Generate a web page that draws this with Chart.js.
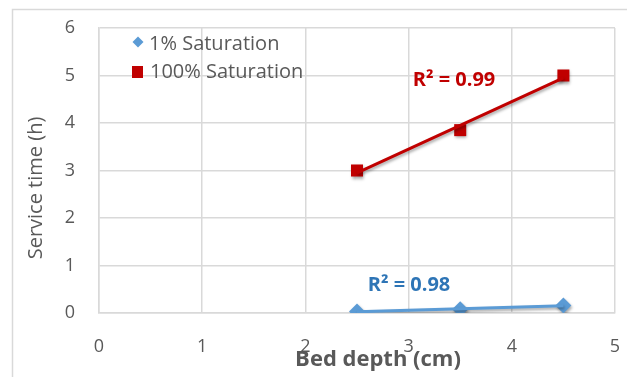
<!DOCTYPE html>
<html>
<head>
<meta charset="utf-8">
<script src="https://cdn.jsdelivr.net/npm/chart.js@4/dist/chart.umd.min.js"></script>
<style>
  html, body { margin: 0; padding: 0; background: #fff; }
  #wrap { width: 627px; height: 377px; position: relative; }
</style>
</head>
<body>
<div id="wrap"><canvas id="c" width="627" height="377"></canvas></div>
<script>
// Bed depth (cm) vs. service time (h) for two saturation levels
const bedDepth = [2.5, 3.5, 4.5];
const time1pct = [0.03, 0.08, 0.16];
const time100pct = [3.0, 3.85, 5.0];
const seriesNames = ['1% Saturation', '100% Saturation'];
const r2Labels = ['R² = 0.98', 'R² = 0.99'];
const xTicks = [0, 1, 2, 3, 4, 5];
const yTicks = [0, 1, 2, 3, 4, 5, 6];

const BLUE = '#5B9BD5';
const BLUE_TXT = '#2E75B6';
const RED = '#C00000';
const GREY = '#595959';
const GRID = '#D9D9D9';
const FONT = '"Open Sans", Lato, sans-serif';

// least-squares line through a series, evaluated at its first and last x
function trend(xs, ys) {
  const n = xs.length;
  const mx = xs.reduce((a, b) => a + b, 0) / n;
  const my = ys.reduce((a, b) => a + b, 0) / n;
  let sxy = 0, sxx = 0;
  for (let i = 0; i < n; i++) { sxy += (xs[i] - mx) * (ys[i] - my); sxx += (xs[i] - mx) ** 2; }
  const b = sxy / sxx, a = my - b * mx;
  return [xs[0], xs[n - 1]].map(x => ({ x, y: a + b * x }));
}
const pts = (xs, ys) => xs.map((x, i) => ({ x, y: ys[i] }));

// soft shadow under lines and markers
const shadowPlugin = {
  id: 'shadow',
  beforeDatasetDraw(chart) {
    const ctx = chart.ctx;
    ctx.save();
    ctx.shadowColor = 'rgba(0,0,0,0.35)';
    ctx.shadowBlur = 3;
    ctx.shadowOffsetX = 1;
    ctx.shadowOffsetY = 2;
  },
  afterDatasetDraw(chart) { chart.ctx.restore(); }
};

// frame, axis titles, legend and R² annotations
const decorPlugin = {
  id: 'decor',
  beforeDraw(chart) {
    const ctx = chart.ctx;
    ctx.save();
    ctx.strokeStyle = GRID;
    ctx.lineWidth = 1.5;
    ctx.beginPath();
    ctx.moveTo(12.5, 400); ctx.lineTo(12.5, 9.5); ctx.lineTo(640, 9.5);
    ctx.stroke();
    ctx.restore();
  },
  afterDraw(chart) {
    const ctx = chart.ctx;
    ctx.save();
    // axis titles
    ctx.fillStyle = GREY;
    ctx.textAlign = 'center';
    ctx.textBaseline = 'middle';
    ctx.font = 'bold 22px ' + FONT;
    ctx.fillText('Bed depth (cm)', 378, 360);
    ctx.save();
    ctx.translate(36, 188);
    ctx.rotate(-Math.PI / 2);
    ctx.font = '20px ' + FONT;
    ctx.fillText('Service time (h)', 0, 0);
    ctx.restore();

    // legend
    ctx.textAlign = 'left';
    ctx.font = '20px ' + FONT;
    ctx.fillStyle = BLUE;
    ctx.beginPath();
    ctx.moveTo(138, 36.5); ctx.lineTo(143.5, 42); ctx.lineTo(138, 47.5); ctx.lineTo(132.5, 42);
    ctx.closePath(); ctx.fill();
    ctx.fillStyle = RED;
    ctx.fillRect(132, 66, 11, 12);
    ctx.fillStyle = GREY;
    ctx.fillText(seriesNames[0], 149, 44);
    ctx.fillText(seriesNames[1], 150, 72);

    // R² annotations
    ctx.textAlign = 'center';
    ctx.font = 'bold 20px ' + FONT;
    ctx.fillStyle = RED;
    ctx.fillText(r2Labels[1], 454, 80);
    ctx.fillStyle = BLUE_TXT;
    ctx.fillText(r2Labels[0], 409, 285);
    ctx.restore();
  }
};

new Chart(document.getElementById('c'), {
  type: 'scatter',
  data: {
    datasets: [
      { label: seriesNames[0] + ' trend', data: trend(bedDepth, time1pct), type: 'line',
        borderColor: BLUE, borderWidth: 3, pointRadius: 0, fill: false },
      { label: seriesNames[1] + ' trend', data: trend(bedDepth, time100pct), type: 'line',
        borderColor: RED, borderWidth: 3, pointRadius: 0, fill: false },
      { label: seriesNames[0], data: pts(bedDepth, time1pct), pointStyle: 'rectRot',
        pointRadius: 8, backgroundColor: BLUE, borderColor: BLUE, borderWidth: 0 },
      { label: seriesNames[1], data: pts(bedDepth, time100pct), pointStyle: 'rect',
        pointRadius: 8.5, backgroundColor: RED, borderColor: RED, borderWidth: 0 }
    ]
  },
  options: {
    responsive: false,
    animation: false,
    devicePixelRatio: 1,
    layout: { padding: { top: 28, right: 12, left: 0, bottom: 0 } },
    plugins: { legend: { display: false }, tooltip: { enabled: false } },
    scales: {
      x: {
        type: 'linear', min: 0, max: 5,
        afterBuildTicks: s => { s.ticks = xTicks.map(v => ({ value: v })); },
        afterFit: s => { s.height = 64; s.paddingLeft = 0; s.paddingRight = 0; },
        grid: { color: GRID, lineWidth: 1.5, drawTicks: false },
        border: { color: GRID, width: 1.5 },
        ticks: { color: GREY, padding: 23, font: { family: FONT, size: 18 } }
      },
      y: {
        type: 'linear', min: 0, max: 6,
        afterBuildTicks: s => { s.ticks = yTicks.map(v => ({ value: v })); },
        afterFit: s => { s.width = 99; s.paddingTop = 0; s.paddingBottom = 0; },
        grid: { color: GRID, lineWidth: 1.5, drawTicks: false },
        border: { color: GRID, width: 1.5 },
        ticks: { color: GREY, padding: 24, font: { family: FONT, size: 18 } }
      }
    }
  },
  plugins: [shadowPlugin, decorPlugin]
});
</script>
</body>
</html>
